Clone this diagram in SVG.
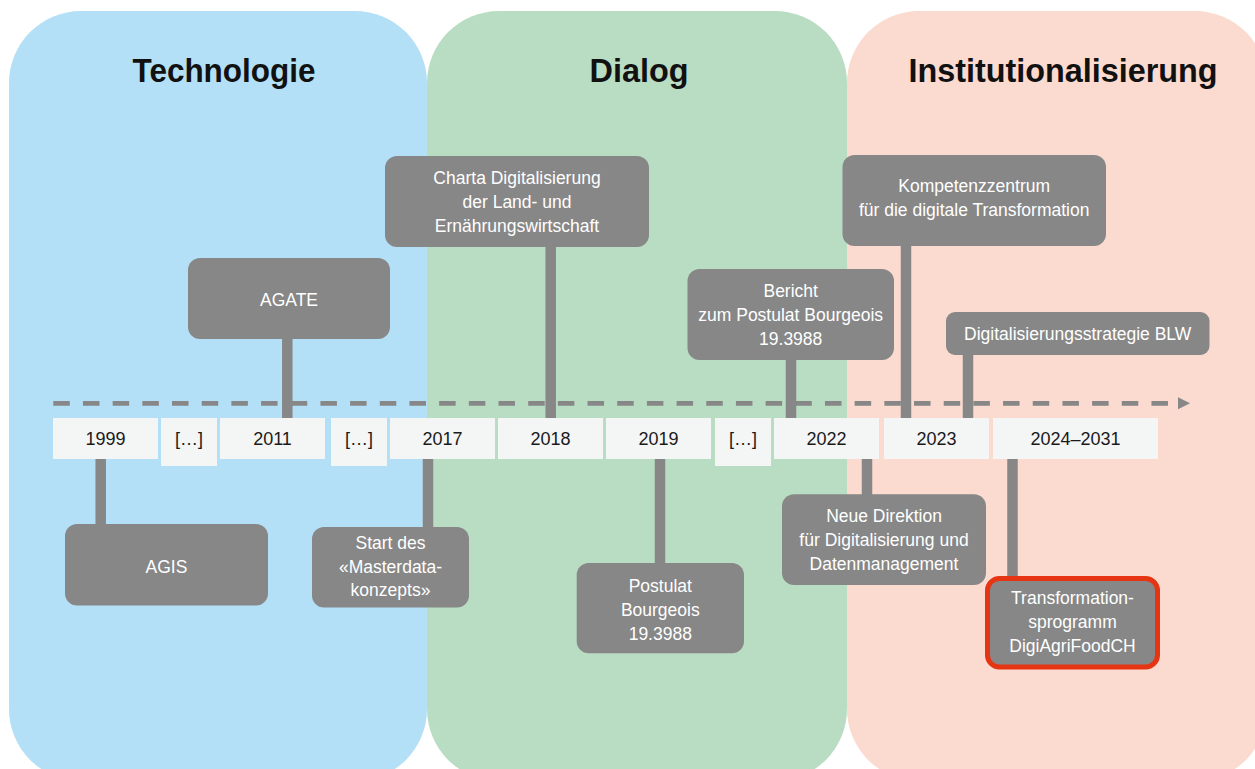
<svg xmlns="http://www.w3.org/2000/svg" width="1255" height="769" viewBox="0 0 1255 769">
<style>
.title{font-family:"Liberation Sans",Arial,sans-serif;font-weight:bold;font-size:34px;fill:#111;text-anchor:middle}
.box{fill:#878787}
.bt{font-family:"Liberation Sans",Arial,sans-serif;font-size:17.5px;fill:#fff;text-anchor:middle}
.yr{fill:#f4f5f5}
.yt{font-family:"Liberation Sans",Arial,sans-serif;font-size:18px;fill:#1a1a1a;text-anchor:middle}
.bar{stroke:#878787;stroke-width:10.5;fill:none}
</style>
<g id="panels">
<rect x="9" y="11" width="418" height="770" rx="72" fill="#b3e0f6"/>
<rect x="427" y="11" width="420" height="770" rx="72" fill="#b9ddc2"/>
<rect x="847" y="11" width="420" height="770" rx="72" fill="#fbdacf"/>
<text class="title" x="224" y="82" textLength="183" lengthAdjust="spacingAndGlyphs">Technologie</text>
<text class="title" x="639" y="82" textLength="99" lengthAdjust="spacingAndGlyphs">Dialog</text>
<text class="title" x="1063" y="82" textLength="309" lengthAdjust="spacingAndGlyphs">Institutionalisierung</text>
</g>
<g id="timeline">
<line x1="53.3" y1="403.3" x2="1170" y2="403.3" stroke="#878787" stroke-width="4.7" stroke-dasharray="16.5 13.18"/>
<polygon points="1178,397.3 1190,403.3 1178,409.3" fill="#878787"/>
</g>
<g id="connectors">
<line class="bar" x1="287.3" y1="338" x2="287.3" y2="419"/>
<line class="bar" x1="550.7" y1="246" x2="550.7" y2="419"/>
<line class="bar" x1="791" y1="359" x2="791" y2="419"/>
<line class="bar" x1="906" y1="245" x2="906" y2="419"/>
<line class="bar" x1="968" y1="354" x2="968" y2="419"/>
<line class="bar" x1="100.7" y1="458" x2="100.7" y2="525"/>
<line class="bar" x1="428" y1="458" x2="428" y2="528"/>
<line class="bar" x1="660" y1="458" x2="660" y2="564"/>
<line class="bar" x1="867" y1="458" x2="867" y2="495"/>
<line class="bar" x1="1012.5" y1="458" x2="1012.5" y2="576"/>
</g>
<g id="years">
<g id="y1999"><rect class="yr" x="53" y="418" width="105" height="41"/><text class="yt" x="105.5" y="445">1999</text></g>
<g id="gap1"><rect class="yr" x="161" y="418" width="56" height="48"/><text class="yt" x="189" y="445">[…]</text></g>
<g id="y2011"><rect class="yr" x="220" y="418" width="105" height="41"/><text class="yt" x="272.5" y="445">2011</text></g>
<g id="gap2"><rect class="yr" x="331" y="418" width="56" height="48"/><text class="yt" x="359" y="445">[…]</text></g>
<g id="y2017"><rect class="yr" x="390" y="418" width="105" height="41"/><text class="yt" x="442.5" y="445">2017</text></g>
<g id="y2018"><rect class="yr" x="498" y="418" width="105" height="41"/><text class="yt" x="550.5" y="445">2018</text></g>
<g id="y2019"><rect class="yr" x="606" y="418" width="105" height="41"/><text class="yt" x="658.5" y="445">2019</text></g>
<g id="gap3"><rect class="yr" x="715" y="418" width="56" height="48"/><text class="yt" x="743" y="445">[…]</text></g>
<g id="y2022"><rect class="yr" x="774" y="418" width="105" height="41"/><text class="yt" x="826.5" y="445">2022</text></g>
<g id="y2023"><rect class="yr" x="884" y="418" width="105" height="41"/><text class="yt" x="936.5" y="445">2023</text></g>
<g id="y2024"><rect class="yr" x="993" y="418" width="165" height="41"/><text class="yt" x="1075.5" y="445">2024–2031</text></g>
</g>
<g id="agate"><rect class="box" x="188" y="258" width="202" height="81" rx="12"/><text class="bt" x="289" y="306">AGATE</text></g>
<g id="charta"><rect class="box" x="385" y="156" width="264" height="91" rx="12"/><text class="bt" x="517" y="184.3">Charta Digitalisierung<tspan x="517" y="208">der Land- und</tspan><tspan x="517" y="231.7">Ernährungswirtschaft</tspan></text></g>
<g id="bericht"><rect class="box" x="687.5" y="269" width="206.5" height="91" rx="12"/><text class="bt" x="790.7" y="296.7">Bericht<tspan x="790.7" y="320.7">zum Postulat Bourgeois</tspan><tspan x="790.7" y="344.5">19.3988</tspan></text></g>
<g id="kompetenz"><rect class="box" x="842.5" y="155" width="263.5" height="91" rx="12"/><text class="bt" x="974.2" y="192.3">Kompetenzzentrum<tspan x="974.2" y="216">für die digitale Transformation</tspan></text></g>
<g id="strategie"><rect class="box" x="946" y="312" width="263.5" height="43" rx="9"/><text class="bt" x="1077.7" y="340">Digitalisierungsstrategie BLW</text></g>
<g id="agis"><rect class="box" x="65" y="524" width="203" height="81.5" rx="12"/><text class="bt" x="166.5" y="572.7">AGIS</text></g>
<g id="masterdata"><rect class="box" x="312" y="527" width="157" height="80.5" rx="12"/><text class="bt" x="390.5" y="549">Start des<tspan x="390.5" y="572.7">«Masterdata-</tspan><tspan x="390.5" y="596">konzepts»</tspan></text></g>
<g id="postulat"><rect class="box" x="576.7" y="563" width="167.3" height="90.3" rx="12"/><text class="bt" x="660.3" y="591.7">Postulat<tspan x="660.3" y="615.7">Bourgeois</tspan><tspan x="660.3" y="640">19.3988</tspan></text></g>
<g id="direktion"><rect class="box" x="782" y="494.3" width="204" height="90.7" rx="12"/><text class="bt" x="884" y="521.7">Neue Direktion<tspan x="884" y="545.7">für Digitalisierung und</tspan><tspan x="884" y="570">Datenmanagement</tspan></text></g>
<g id="transformation"><rect class="box" x="987.5" y="578.5" width="170" height="88.5" rx="12" stroke="#e63512" stroke-width="5"/><text class="bt" x="1072.5" y="604.3">Transformation-<tspan x="1072.5" y="628.3">sprogramm</tspan><tspan x="1072.5" y="652.3">DigiAgriFoodCH</tspan></text></g>
</svg>
